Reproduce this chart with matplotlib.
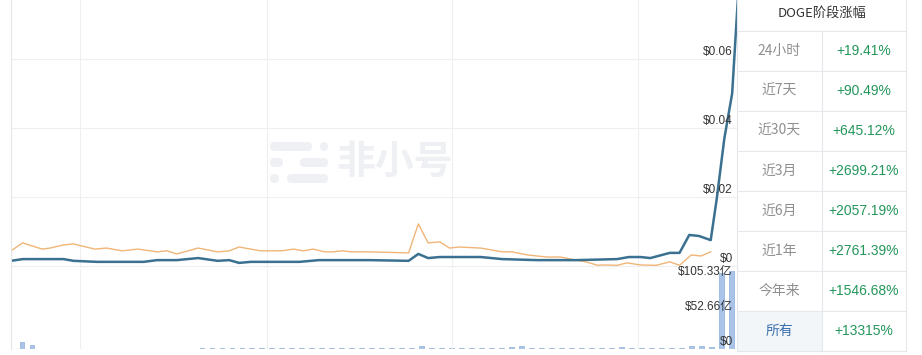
import numpy as np
import matplotlib.pyplot as plt
from matplotlib.patches import FancyBboxPatch, Rectangle
from matplotlib.lines import Line2D
from matplotlib.transforms import IdentityTransform

# price line (week index, USD)
price_week = [0, 6, 27, 32, 44, 68, 75, 85, 96, 106, 112, 117, 123, 148, 158, 184,
              204, 209, 214, 220, 241, 252, 270, 290, 311, 317, 323, 328, 338, 343,
              348, 353, 359, 362, 366, 370, 373]
price = [0.0015, 0.0020, 0.0020, 0.0015, 0.0012, 0.0012, 0.0017, 0.0017, 0.0023, 0.0015,
         0.0017, 0.0009, 0.0012, 0.0012, 0.0017, 0.0017, 0.0015, 0.0035, 0.0023, 0.0026,
         0.0026, 0.0020, 0.0017, 0.0017, 0.0020, 0.0026, 0.0026, 0.0023, 0.0038, 0.0038,
         0.0090, 0.0087, 0.0075, 0.0191, 0.0370, 0.0500, 0.0780]

# comparison line (orange)
cmp_week = [0, 6, 16, 20, 27, 32, 43, 49, 57, 65, 75, 80, 85, 96, 106, 112, 117, 128,
            139, 145, 150, 155, 161, 165, 170, 175, 184, 204, 209, 214, 220, 225, 230,
            241, 252, 257, 265, 275, 282, 290, 295, 301, 304, 311, 316, 323, 331, 338,
            343, 349, 354, 359]
cmp_val = [0.0044, 0.0067, 0.0049, 0.0052, 0.0061, 0.0064, 0.0049, 0.0052, 0.0044, 0.0049,
           0.0041, 0.0044, 0.0035, 0.0052, 0.0041, 0.0044, 0.0055, 0.0044, 0.0044, 0.0049,
           0.0044, 0.0049, 0.0041, 0.0041, 0.0044, 0.0041, 0.0041, 0.0038, 0.0122, 0.0067,
           0.0070, 0.0052, 0.0055, 0.0052, 0.0041, 0.0041, 0.0032, 0.0026, 0.0026, 0.0017,
           0.0012, 0.0002, 0.0003, 0.0002, 0.0009, 0.0003, 0.0002, 0.0012, 0.0002, 0.0032,
           0.0029, 0.0041]

# volume bars, 亿 USD
volume = [10, 6, 0.3, 0.3, 0.3, 0.3, 0.3, 0.3, 0.3, 0.3, 0.3, 0.3, 0.3, 0.3, 0.3, 0.3,
          0.3, 0.3, 0.8, 0.8, 0.9, 0.8, 0.9, 0.9, 1.0, 0.9, 1.0, 0.9, 1.0, 1.0, 1.1, 1.0,
          1.0, 1.1, 1.0, 1.0, 1.2, 1.0, 1.1, 1.0, 5, 1.2, 1.0, 1.1, 1.0, 1.2, 1.1, 1.0,
          1.1, 3, 4, 1.1, 1.0, 1.0, 0.9, 1.0, 1.0, 0.9, 1.0, 1.1, 2.5, 1.0, 1.1, 1.0,
          1.2, 1.1, 1.0, 5, 4, 3.5, 115, 118]

price_ticks = [0, 0.02, 0.04, 0.06]
price_labels = ['$0', '$0.02', '$0.04', '$0.06']
vol_ticks = [0, 52.66, 105.33]
vol_labels = ['$0', '$52.66亿', '$105.33亿']
grid_weeks = [35.4, 131.3, 226.2, 321.5]

table_title = 'DOGE阶段涨幅'
periods = ['24小时', '近7天', '近30天', '近3月', '近6月', '近1年', '今年来', '所有']
changes = ['+19.41%', '+90.49%', '+645.12%', '+2699.21%', '+2057.19%', '+2761.39%',
           '+1546.68%', '+13315%']

W, H = 922, 355
latin = ['Liberation Sans', 'Noto Sans CJK SC']
cjk = ['Noto Sans CJK SC', 'DejaVu Sans']

fig = plt.figure(figsize=(W / 100, H / 100), dpi=100)


def fx(px):
    return px / W


def fy(py):
    return 1 - py / H


x0, x1 = 11, 738
xmax = 373

# price panel
ax = fig.add_axes([fx(x0), fy(268), fx(x1) - fx(x0), 268 / H])
ax.set_xlim(0, xmax)
ax.set_ylim(-0.00058, 0.0771)
for s in ax.spines.values():
    s.set_visible(False)
ax.set_yticks(price_ticks)
ax.set_xticks(grid_weeks)
ax.grid(True, color='#efefef', lw=0.8)
ax.tick_params(length=0, labelbottom=False, labelleft=False)
ax.plot(cmp_week, cmp_val, color='#f0b577', lw=1.0)
ax.plot(price_week, price, color='#3a7090', lw=1.8)
for v, lab in zip(price_ticks, price_labels):
    ax.text(370.3, v + 0.0004, lab, ha='right', va='bottom', fontsize=8.5,
            color='#333333', family=latin)

# volume panel
vax = fig.add_axes([fx(x0), fy(349), fx(x1) - fx(x0), 79 / H])
vax.set_xlim(0, xmax)
vax.set_ylim(0, 118.9)
for s in vax.spines.values():
    s.set_visible(False)
vax.set_xticks(grid_weeks)
vax.set_yticks([])
vax.xaxis.grid(True, color='#efefef', lw=0.8)
vax.tick_params(length=0, labelbottom=False, labelleft=False)
vol_x = np.linspace(5.6, 369.6, len(volume))
vax.bar(vol_x, volume, width=2.3, color='#a9c4e8', edgecolor='#8eaedb', lw=0.5)
vax.axhline(0, color='#e6e6e6', lw=0.8)
for v, lab in zip(vol_ticks, vol_labels):
    vax.text(370.3, v + 2, lab, ha='right', va='bottom', fontsize=8.5,
             color='#333333', family=latin)

# left border
fig.add_artist(Line2D([fx(x0), fx(x0)], [fy(0), fy(349)], color='#e6e6e6', lw=0.8))

# watermark
wm = '#eef0f4'
for (l, t, r, b) in [(270, 142, 312, 151), (320, 142, 328, 151), (270, 158, 283, 167),
                     (300, 158, 328, 167), (270, 174, 279, 183), (287, 174, 328, 183)]:
    h = b - t
    fig.add_artist(FancyBboxPatch((l, H - b), r - l, h,
                                  boxstyle='round,pad=0,rounding_size=%f' % (h / 2),
                                  transform=IdentityTransform(), color=wm, lw=0))
fig.text(fx(336), fy(162), '非小号', fontsize=28, weight='bold', color=wm,
         family=cjk, ha='left', va='center')

# stage change table
tl, tm, tr = 737, 822, 906
lc = '#e4e7eb'
row0 = 30.7
rh = 40
fig.add_artist(Rectangle((fx(tl), fy(row0 + 8 * rh)), fx(tm) - fx(tl), rh / H,
                         color='#f3f6f9', lw=0))
for k in range(9):
    yy = row0 + k * rh
    fig.add_artist(Line2D([fx(tl), fx(tr)], [fy(yy), fy(yy)], color=lc, lw=0.8))
for xx, top in [(tl, 0), (tr, 0), (tm, row0)]:
    fig.add_artist(Line2D([fx(xx), fx(xx)], [fy(top), fy(row0 + 8 * rh)], color=lc, lw=0.8))
fig.text(fx(822), fy(13), table_title, fontsize=9.5, color='#333333', family=cjk,
         ha='center', va='center')
for i, (p, c) in enumerate(zip(periods, changes)):
    yc = row0 + rh * i + rh / 2
    pc = '#3a6fae' if i == len(periods) - 1 else '#8f8f8f'
    fig.text(fx(779), fy(yc), p, fontsize=10, color=pc, family=cjk,
             ha='center', va='center')
    fig.text(fx(864), fy(yc), c, fontsize=10, color='#24965a', family=latin,
             ha='center', va='center')

fig.savefig('out.png', dpi=100)
